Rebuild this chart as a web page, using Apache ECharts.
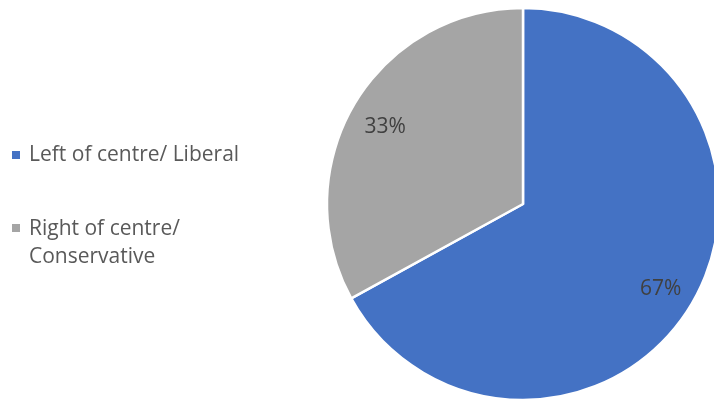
<!DOCTYPE html>
<html>
<head>
<meta charset="utf-8">
<script src="https://cdn.jsdelivr.net/npm/echarts@6/dist/echarts.min.js"></script>
<style>
  html, body { margin: 0; padding: 0; background: #fff; }
  #main { width: 714px; height: 400px; }
</style>
</head>
<body>
<div id="main"></div>
<script>
// values
var categories = ['Left of centre/ Liberal', 'Right of centre/ Conservative'];
var shares = [67, 33];
var colors = ['#4472C4', '#A5A5A5'];

var myChart = echarts.init(document.getElementById('main'));

var pieData = categories.map(function (name, i) {
  return { name: name, value: shares[i], itemStyle: { color: colors[i] } };
});

var legendText = {
  color: '#595959',
  fontFamily: 'Open Sans',
  fontSize: 21,
  lineHeight: 28,
  padding: [0, 0, 0, 4]
};

var option = {
  animation: false,
  legend: [{
    // first entry, single line
    orient: 'vertical',
    left: 12,
    top: 141,
    padding: 0,
    itemWidth: 8,
    itemHeight: 8,
    icon: 'rect',
    itemStyle: { borderWidth: 0 },
    data: [categories[0]],
    textStyle: legendText
  }, {
    // second entry wraps; tall icon path keeps the square on the first line
    orient: 'vertical',
    left: 12,
    top: 215,
    padding: 0,
    itemWidth: 8,
    itemHeight: 38,
    icon: 'path://M0,0h1v1h-1z M0,4.75',
    itemStyle: { borderWidth: 0 },
    data: [categories[1]],
    formatter: function (name) { return name.replace('/ ', '/\n'); },
    textStyle: legendText
  }],
  series: [{
    type: 'pie',
    center: [523, 204],
    radius: 196,
    startAngle: 90,
    clockwise: true,
    silent: true,
    itemStyle: { borderColor: '#fff', borderWidth: 2.5 },
    label: { show: false },
    labelLine: { show: false },
    data: pieData
  }, {
    // transparent ring only used to place the labels at ~0.8 radius
    type: 'pie',
    center: [523, 204],
    radius: [118, 196],
    startAngle: 90,
    clockwise: true,
    silent: true,
    itemStyle: { color: 'transparent', borderWidth: 0 },
    label: {
      show: true,
      position: 'inside',
      formatter: '{c}%',
      offset: [0, 4],
      color: '#404040',
      fontFamily: 'Open Sans',
      fontSize: 21
    },
    labelLine: { show: false },
    data: categories.map(function (name, i) {
      return { name: name, value: shares[i] };
    })
  }]
};

myChart.setOption(option);
</script>
</body>
</html>
